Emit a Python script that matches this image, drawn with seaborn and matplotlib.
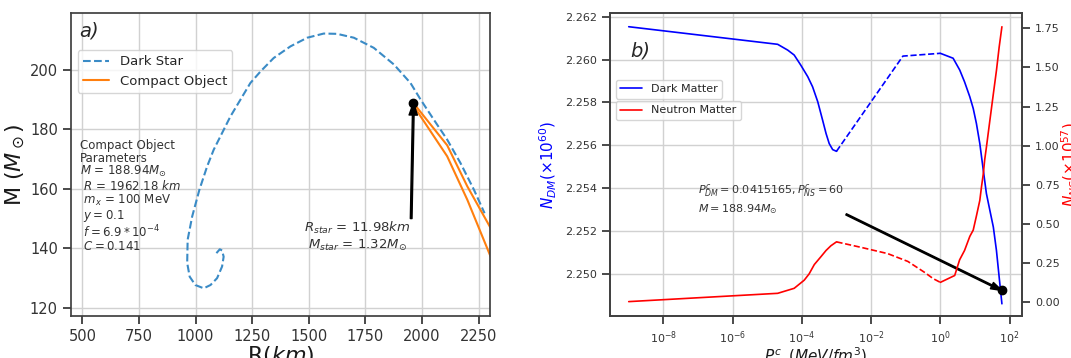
import numpy as np
import pandas as pd
import matplotlib
matplotlib.use('Agg')
import matplotlib.pyplot as plt
import matplotlib.ticker as mticker
from matplotlib.lines import Line2D
import seaborn as sns

# ---------------- datos panel a) ----------------
# curva Dark Star (R en km, M en masas solares)
ds_R = [1092, 1107, 1117, 1124, 1117, 1095, 1066, 1036, 999, 974, 963, 965, 985, 1017,
        1051, 1080, 1117, 1154, 1198, 1242, 1287, 1345, 1419, 1493, 1566, 1625, 1699,
        1787, 1876, 1949, 1994, 2052, 2111, 2170, 2229, 2276]
ds_M = [138.4, 139.7, 139.3, 137.2, 133.9, 130.0, 127.7, 126.6, 127.7, 130.5, 135.1, 142.9,
        150.7, 159.7, 167.5, 173.1, 178.7, 184.3, 189.9, 195.5, 199.4, 203.9, 207.8, 210.7,
        212.1, 212.0, 210.7, 207.3, 201.7, 195.5, 189.9, 183.2, 176.5, 168.6, 159.7, 151.8]

# objeto compacto: dos ramas
co_R_up = [1971, 2111, 2200, 2303]
co_M_up = [187.9, 174.6, 160.8, 146.8]
co_R_low = [1964, 2111, 2200, 2303]
co_M_low = [187.7, 170.9, 156.3, 137.2]

star_R, star_M = 1962.18, 188.94

# ---------------- datos panel b) ----------------
# Dark Matter (N_DM x1e60): tramo solido, tramo discontinuo, tramo solido
dm_P1 = [1e-9, 2.0e-5, 3.9e-5, 6.0e-5, 9.3e-5, 1.48e-4, 2.04e-4, 2.88e-4, 3.98e-4,
         5.0e-4, 6.17e-4, 7.76e-4, 1e-3]
dm_N1 = [2.26153, 2.26071, 2.26044, 2.26021, 2.25974, 2.25920, 2.25873, 2.25803, 2.25717,
         2.25655, 2.25608, 2.25580, 2.25572]
dm_P2 = [1e-3, 8.3e-2, 1.0]
dm_N2 = [2.25572, 2.26016, 2.26029]
dm_P3 = [1.0, 2.34, 3.63, 5.0, 7.1, 8.9, 11.0, 13.8, 17.4, 21.4, 26.9, 33.9, 41.7, 50.0, 60]
dm_N3 = [2.26029, 2.26006, 2.25951, 2.25896, 2.25826, 2.25772, 2.25702, 2.25608, 2.25484,
         2.25375, 2.25297, 2.25219, 2.25110, 2.24985, 2.24861]

# Neutron Matter (N_NS x1e57)
nm_P1 = [1e-9, 2.0e-5, 6.0e-5, 1.17e-4, 1.62e-4, 2.29e-4, 3.55e-4, 5.0e-4, 6.9e-4, 1e-3]
nm_N1 = [0.003, 0.056, 0.088, 0.14, 0.18, 0.24, 0.29, 0.33, 0.36, 0.385]
nm_P2 = [1e-3, 5.1e-3, 3.0e-2, 0.115, 0.35, 0.62, 1.0]
nm_N2 = [0.385, 0.35, 0.31, 0.26, 0.19, 0.15, 0.126]
nm_P3 = [1.0, 2.6, 3.6, 5.0, 7.1, 8.9, 11.0, 13.8, 15.5, 17.4, 19.1, 21.4, 26.9, 33.9,
         41.7, 50.0, 60]
nm_N3 = [0.126, 0.17, 0.27, 0.33, 0.42, 0.46, 0.55, 0.65, 0.74, 0.82, 0.91, 0.99, 1.16,
         1.33, 1.48, 1.63, 1.76]

dot_P, dot_N = 60, 2.24923

# ==========================================
sns.set_theme(style='ticks', rc={'axes.edgecolor': '0.25', 'grid.color': '0.82',
                                 'grid.linewidth': 1.0, 'xtick.color': '0.2', 'ytick.color': '0.2',
                                 'text.color': '0.15', 'axes.labelcolor': '0.1'})
plt.rcParams['font.family'] = ['DejaVu Sans']
plt.rcParams['mathtext.fontset'] = 'dejavusans'

fig = plt.figure(figsize=(10.71, 3.58), dpi=100)
ax1 = fig.add_axes([0.0663, 0.1173, 0.3912, 0.8464])
ax2 = fig.add_axes([0.5696, 0.1173, 0.3847, 0.8464])

# --- Panel a) ---
ax1.grid(True)
ax1.set_axisbelow(True)
sns.lineplot(x=ds_R, y=ds_M, sort=False, estimator=None, ax=ax1, color='#3a8bc6',
             linestyle='--', linewidth=1.5)
sns.lineplot(x=co_R_up, y=co_M_up, sort=False, estimator=None, ax=ax1, color='#ff7f0e',
             linewidth=1.5)
sns.lineplot(x=co_R_low, y=co_M_low, sort=False, estimator=None, ax=ax1, color='#ff7f0e',
             linewidth=1.5)
ax1.plot([star_R], [star_M], 'o', color='black', markersize=6, zorder=5)
ax1.annotate('', xy=(star_R, star_M), xytext=(1952, 150),
             arrowprops=dict(facecolor='black', edgecolor='black', width=1.2, headwidth=6,
                             headlength=9, shrink=0.0))
ax1.text(1715, 144, r'$R_{star}$ = 11.98$km$' + '\n' + r'$M_{star}$ = 1.32$M_{\odot}$',
         ha='center', va='center', fontsize=9.5, color='0.2')
ax1.text(0.02, 0.94, 'a)', transform=ax1.transAxes, fontsize=14, style='italic', va='center')
ax1.text(0.022, 0.585, 'Compact Object\nParameters\n$M$ = 188.94$M_{\\odot}$\n $R$ = 1962.18 $km$\n'
         ' $m_x$ = 100 MeV\n $y = 0.1$\n $f = 6.9 * 10^{-4}$\n $C = 0.141$',
         transform=ax1.transAxes, fontsize=8.5, va='top', ha='left', color='0.2', linespacing=0.98)

h1 = [Line2D([], [], color='#3a8bc6', linestyle='--', linewidth=1.5),
      Line2D([], [], color='#ff7f0e', linewidth=1.5)]
ax1.legend(h1, ['Dark Star', 'Compact Object'], loc='upper left', bbox_to_anchor=(0.0, 0.9),
           fontsize=9.5, frameon=True, handlelength=2.0)
ax1.set_xlim(450, 2300)
ax1.set_ylim(117.3, 219)
ax1.set_xticks([500, 750, 1000, 1250, 1500, 1750, 2000, 2250])
ax1.set_yticks([120, 140, 160, 180, 200])
ax1.tick_params(labelsize=10.5)
ax1.set_xlabel('R($km$)', fontsize=16, labelpad=0)
ax1.set_ylabel(r'M ($M_\odot$)', fontsize=16, labelpad=2)

# --- Panel b) ---
ax2.grid(True)
ax2.set_axisbelow(True)
ax3 = ax2.twinx()
sns.lineplot(x=dm_P1, y=dm_N1, ax=ax2, color='blue', linewidth=1.2, estimator=None)
sns.lineplot(x=dm_P2, y=dm_N2, ax=ax2, color='blue', linewidth=1.2, linestyle='--', estimator=None)
sns.lineplot(x=dm_P3, y=dm_N3, ax=ax2, color='blue', linewidth=1.2, estimator=None)
sns.lineplot(x=nm_P1, y=nm_N1, ax=ax3, color='red', linewidth=1.2, estimator=None)
sns.lineplot(x=nm_P2, y=nm_N2, ax=ax3, color='red', linewidth=1.2, linestyle='--', estimator=None)
sns.lineplot(x=nm_P3, y=nm_N3, ax=ax3, color='red', linewidth=1.2, estimator=None)
ax2.set_xscale('log')
ax2.set_xlim(10**-9.54, 10**2.36)
ax2.set_ylim(2.24804, 2.26217)
ax3.set_ylim(-0.089, 1.848)
ax2.set_yticks([2.250, 2.252, 2.254, 2.256, 2.258, 2.260, 2.262])
ax2.yaxis.set_major_formatter(mticker.FormatStrFormatter('%.3f'))
ax3.set_yticks([0.0, 0.25, 0.5, 0.75, 1.0, 1.25, 1.5, 1.75])
ax3.yaxis.set_major_formatter(mticker.FormatStrFormatter('%.2f'))
ax2.set_xticks([1e-8, 1e-6, 1e-4, 1e-2, 1e0, 1e2])
ax2.xaxis.set_minor_locator(mticker.NullLocator())
ax2.tick_params(labelsize=8)
ax3.tick_params(labelsize=8)
ax3.grid(False)

ax2.plot([dot_P], [dot_N], 'o', color='black', markersize=6, zorder=6)
ax2.annotate('', xy=(dot_P, dot_N), xytext=(1.9e-3, 2.25278),
             arrowprops=dict(facecolor='black', edgecolor='black', width=1.0, headwidth=5,
                             headlength=8, shrink=0.0))
ax2.text(1e-7, 2.2535, r'$P^c_{DM} = 0.0415165, P^c_{NS} = 60$' + '\n' + r'$M = 188.94M_{\odot}$',
         fontsize=8, va='center', ha='left', color='0.2', linespacing=1.3)
ax2.text(0.05, 0.875, 'b)', transform=ax2.transAxes, fontsize=14, style='italic', va='center')

ax2.legend([Line2D([], [], color='blue', linewidth=1.2)], ['Dark Matter'], loc='upper left',
           bbox_to_anchor=(0.0, 0.798), fontsize=8, handlelength=2.0)
ax3.legend([Line2D([], [], color='red', linewidth=1.2)], ['Neutron Matter'], loc='upper left',
           bbox_to_anchor=(0.0, 0.728), fontsize=8, handlelength=2.0)

ax2.set_ylabel(r'$N_{DM}(\times10^{60})$', color='blue', fontsize=11, labelpad=4)
ax3.set_ylabel(r'$N_{NS}(\times10^{57})$', color='red', fontsize=11, labelpad=0)
ax2.set_xlabel(r'$P^c_{NS}(MeV/fm^3)$', fontsize=11, labelpad=0)

fig.savefig('out.png', dpi=100)
